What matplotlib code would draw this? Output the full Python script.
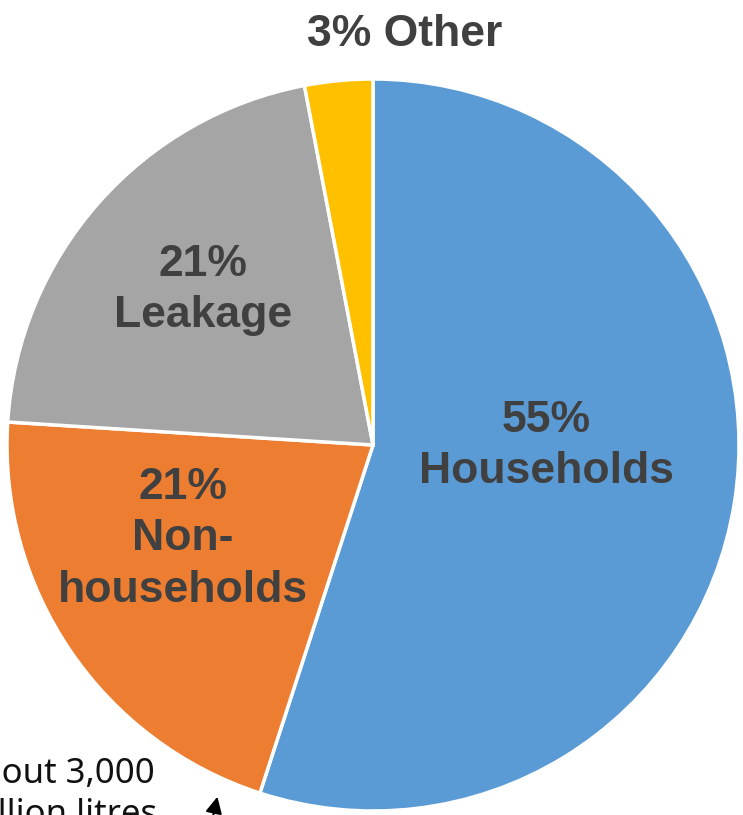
import matplotlib
matplotlib.use("Agg")
import matplotlib.pyplot as plt

categories = ["Households", "Non-\nhouseholds", "Leakage", "Other"]
values = [55, 21, 21, 3]
colors = ["#5B9BD5", "#ED7D31", "#A5A5A5", "#FFC000"]
note_lines = ["About 3,000", "million litres"]

W, H = 743, 815
fig = plt.figure(figsize=(W / 100, H / 100), dpi=100)
ax = fig.add_axes([0, 0, 1, 1])

cx, cy, r = 373, H - 445, 366
ax.pie(values, colors=colors, startangle=90, counterclock=False,
       center=(cx, cy), radius=r, frame=True,
       wedgeprops=dict(edgecolor="white", linewidth=2.5))
ax.set_xlim(0, W)
ax.set_ylim(0, H)
ax.set_aspect("equal")
ax.axis("off")

tc = "#404040"
fs = 32
ls = 1.33
fam = ["Liberation Sans", "DejaVu Sans"]
ax.text(546, H - 446, f"{values[0]}%\n{categories[0]}", ha="center", va="center",
        fontsize=fs, fontweight="bold", color=tc, family=fam, linespacing=ls)
ax.text(183, H - 539, f"{values[1]}%\n{categories[1]}", ha="center", va="center",
        fontsize=fs, fontweight="bold", color=tc, family=fam, linespacing=ls)
ax.text(203, H - 290, f"{values[2]}%\n{categories[2]}", ha="center", va="center",
        fontsize=fs, fontweight="bold", color=tc, family=fam, linespacing=ls)
ax.text(405, H - 34, f"{values[3]}% {categories[3]}", ha="center", va="center",
        fontsize=fs, fontweight="bold", color=tc, family=fam)

nfam = ["Noto Sans", "DejaVu Sans"]
ax.text(155, H - 783, note_lines[0], ha="right", va="baseline", fontsize=25,
        color="#111111", family=nfam)
ax.text(157, H - 824, note_lines[1], ha="right", va="baseline", fontsize=25,
        color="#111111", family=nfam)

ax.annotate("", xy=(218, H - 794), xytext=(210, H - 830),
            arrowprops=dict(arrowstyle="-|>", color="black", lw=1.5,
                            mutation_scale=25), annotation_clip=False)

fig.savefig("out.png", dpi=100)
